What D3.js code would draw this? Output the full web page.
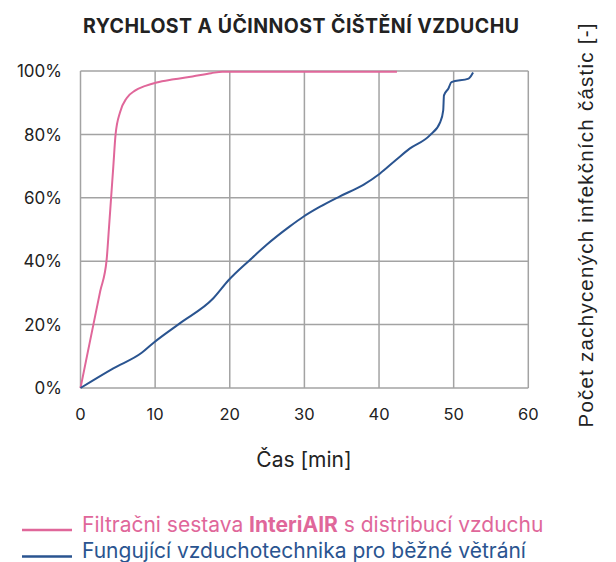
<!DOCTYPE html>
<html><head><meta charset="utf-8">
<script src="https://cdn.jsdelivr.net/npm/d3@7"></script>
<style>body{margin:0;background:#fff}svg{display:block}</style>
</head><body>
<svg id="c" width="616" height="562"></svg>
<script>
const title = "RYCHLOST A ÚČINNOST ČIŠTĚNÍ VZDUCHU";
const xLabel = "Čas [min]";
const yLabel = "Počet zachycených infekčních částic [-]";
const xTicks = [0, 10, 20, 30, 40, 50, 60];
const yTicks = [0, 20, 40, 60, 80, 100];
const pinkTime = [0, 0.88, 1.76, 2.64, 3.5, 3.8, 4.1, 4.4, 4.7, 5.3, 6.2, 7.3, 8.7, 10.2, 12.5, 15.0, 17.5, 19.0, 42.4];
const pinkValue = [0, 10.2, 20.4, 30.5, 40.4, 50, 60, 70, 80, 87, 91.5, 93.8, 95.3, 96.4, 97.4, 98.3, 99.3, 99.8, 99.8];
const blueTime = [0, 4.4, 8.2, 9.8, 13.3, 17.8, 19.8, 22.7, 24.9, 28.0, 29.9, 32.1, 34.7, 37.9, 40.1, 42.3, 44.1, 46.8, 48.2, 48.6, 48.7, 49.3, 49.7, 52.0, 52.6];
const blueValue = [0, 6.2, 11.1, 14.3, 20.4, 28.3, 33.9, 40.4, 45.1, 50.9, 54.1, 57.2, 60.4, 64.1, 67.6, 72, 75.5, 79.7, 83.9, 87.6, 92.3, 94.5, 96.5, 97.6, 99.5];
const legendNames = ["Filtračni sestava ", "InteriAIR", " s distribucí vzduchu", "Fungující vzduchotechnika pro běžné větrání"];
const colors = {pink: "#e0679a", blue: "#2a5490"};

const svg = d3.select("#c");
const x = d3.scaleLinear().domain([0, 60]).range([80.5, 528.3]);
const y = d3.scaleLinear().domain([0, 100]).range([388, 71]);
const font = "Inter, 'Open Sans', sans-serif";

// grid
const g = svg.append("g");
g.selectAll(".vx").data(xTicks).join("line")
  .attr("x1", d => x(d)).attr("x2", d => x(d)).attr("y1", y(0)).attr("y2", y(100))
  .attr("stroke", "#a3a3a3").attr("stroke-width", 1.5);
g.selectAll(".hy").data(yTicks).join("line")
  .attr("y1", d => y(d)).attr("y2", d => y(d)).attr("x1", x(0)).attr("x2", x(60))
  .attr("stroke", "#a3a3a3").attr("stroke-width", 1.5);

// axes labels
svg.append("g").selectAll("text").data(yTicks).join("text")
  .attr("x", 62).attr("y", d => y(d)).attr("dy", "0.36em").attr("text-anchor", "end")
  .attr("font-family", font).attr("font-size", 17).attr("fill", "#222")
  .text(d => d + "%");
svg.append("g").selectAll("text").data(xTicks).join("text")
  .attr("x", d => x(d)).attr("y", 420).attr("text-anchor", "middle")
  .attr("font-family", font).attr("font-size", 16.5).attr("fill", "#222")
  .text(d => d);

svg.append("text").attr("x", 304).attr("y", 467).attr("text-anchor", "middle")
  .attr("font-family", font).attr("font-size", 21).attr("fill", "#222").text(xLabel);

svg.append("text").attr("x", 83).attr("y", 33)
  .attr("font-family", font).attr("font-size", 19.5).attr("font-weight", 700).attr("fill", "#222")
  .attr("textLength", 436).attr("lengthAdjust", "spacing").text(title);

svg.append("text").attr("transform", "translate(593,225.5) rotate(-90)").attr("text-anchor", "middle")
  .attr("font-family", "'Liberation Sans', Arial, sans-serif").attr("font-size", 20.5).attr("fill", "#222")
  .attr("textLength", 404).attr("lengthAdjust", "spacing")
  .text(yLabel);

// lines
const line = d3.line().x(d => x(d[0])).y(d => y(d[1])).curve(d3.curveMonotoneX);
svg.append("path").datum(pinkTime.map((t, i) => [t, pinkValue[i]]))
  .attr("d", line).attr("fill", "none").attr("stroke", colors.pink).attr("stroke-width", 2);
svg.append("path").datum(blueTime.map((t, i) => [t, blueValue[i]]))
  .attr("d", line).attr("fill", "none").attr("stroke", colors.blue).attr("stroke-width", 2);

// legend
const lg = svg.append("g");
lg.append("line").attr("x1", 22).attr("x2", 72).attr("y1", 530).attr("y2", 530).attr("stroke", colors.pink).attr("stroke-width", 2.5);
lg.append("line").attr("x1", 22).attr("x2", 72).attr("y1", 556.5).attr("y2", 556.5).attr("stroke", colors.blue).attr("stroke-width", 2.5);
const t1 = lg.append("text").attr("x", 82).attr("y", 532).attr("font-family", font).attr("font-size", 21).attr("fill", colors.pink);
t1.append("tspan").text(legendNames[0]);
t1.append("tspan").attr("font-weight", 700).text(legendNames[1]);
t1.append("tspan").text(legendNames[2]);
lg.append("text").attr("x", 82).attr("y", 558).attr("font-family", font).attr("font-size", 21).attr("fill", colors.blue).text(legendNames[3]);
</script>
</body></html>
